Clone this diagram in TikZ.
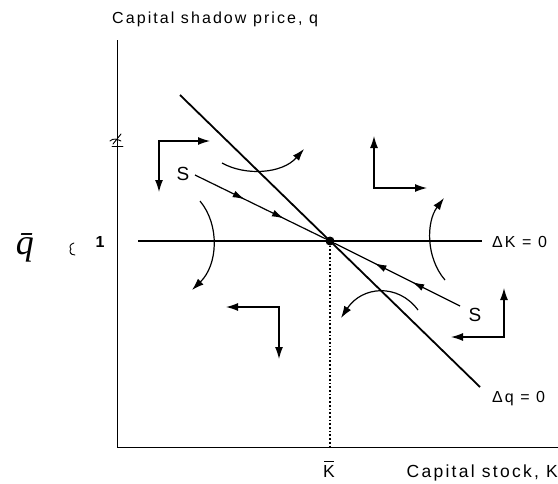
\documentclass[tikz,border=0pt]{standalone}
\usepackage{fontspec}
\setmainfont{Liberation Sans}
\newfontfamily\lab[LetterSpace=13]{Liberation Sans}
\newfontfamily\handf{Liberation Serif}
\usetikzlibrary{arrows.meta,decorations.markings}
\tikzset{
  tip/.style={-{Latex[length=12pt,width=8pt]}},
  dtip/.style={{Latex[length=12pt,width=8pt]}-{Latex[length=12pt,width=8pt]}},
  axis/.style={line width=0.9pt},
  locus/.style={line width=1.8pt},
  flow/.style={line width=1.2pt},
  saddle/.style={line width=1.2pt, postaction={decorate}, decoration={markings,
     mark=at position 0.38 with {\arrow{Latex[length=12pt,width=7pt]}},
     mark=at position 0.68 with {\arrow{Latex[length=12pt,width=7pt]}}}},
  txt/.style={font=\lab\fontsize{16}{18}\selectfont, inner sep=0pt},
  btxt/.style={font=\lab\fontsize{17.5}{19}\selectfont, inner sep=0pt},
  slab/.style={font=\lab\fontsize{19}{20}\selectfont, inner sep=0pt},
  hand/.style={line width=0.9pt, line cap=round, line join=round}
}
\begin{document}
\begin{tikzpicture}[x=1pt,y=-1pt]
\useasboundingbox (0,0) rectangle (558,483);
% axes
\coordinate (ytop) at (117,40);
\coordinate (orig) at (117,447);
\coordinate (xend) at (558,447);
\draw[axis] (ytop) -- (orig) -- (xend);
\node[txt, anchor=base west] (ylab) at (112,23) {Capital shadow price, q};
\node[btxt, anchor=base east] (xlab) at (558,477) {Capital stock, K};
% loci
\coordinate (dkL) at (138,241);
\coordinate (dkR) at (482,241);
\coordinate (dqT) at (180,95);
\coordinate (dqB) at (480,387);
\draw[locus] (dkL) -- (dkR);
\draw[locus] (dqT) -- (dqB);
\node[txt, anchor=west] (dklab) at (492,242) {ΔK = 0};
\node[txt, anchor=west] (dqlab) at (492,399) {Δq = 0};
% equilibrium
\node[circle, fill=black, inner sep=0pt, minimum size=9pt] (eq) at (330,241) {};
\coordinate (kb) at (330,447);
\draw[line width=1.7pt, dotted] (eq) -- (kb);
\node[btxt, anchor=base] (kbar) at (329,477) {K};
\draw[line width=1pt] ([xshift=-5pt,yshift=3.5pt]kbar.north) -- ([xshift=5pt,yshift=3.5pt]kbar.north);
\node[font=\bfseries\fontsize{16}{16}\selectfont, inner sep=0pt, anchor=base] (one) at (100,247) {1};
% saddle path
\coordinate (s1) at (195,175);
\coordinate (s2) at (460,306);
\draw[saddle] (s1) -- (eq);
\draw[saddle] (s2) -- (eq);
\node[slab] (S1) at (183,174) {S};
\node[slab] (S2) at (475,315) {S};
% L-shaped arrows
\coordinate (c1) at (159,141);
\draw[flow, dtip] (210,141) -- (c1) -- (159,192);
\coordinate (c3) at (374,188);
\draw[flow, dtip] (374,136) -- (c3) -- (427,188);
\coordinate (c6) at (279,307);
\draw[flow, dtip] (226,307) -- (c6) -- (279,359);
\coordinate (c8) at (504,337);
\draw[flow, dtip] (504,288) -- (c8) -- (451,337);
% curved arrows
\coordinate (a2s) at (222,163);
\coordinate (a2e) at (304,149);
\draw[flow, tip] (a2s) .. controls (245,176) and (282,174) .. (a2e);
\coordinate (a4s) at (445,280);
\coordinate (a4e) at (444,198);
\draw[flow, tip] (a4s) .. controls (426,258) and (426,222) .. (a4e);
\coordinate (a5s) at (200,201);
\coordinate (a5e) at (192,290);
\draw[flow, tip] (a5s) .. controls (220,225) and (218,265) .. (a5e);
\coordinate (a7s) at (418,310);
\coordinate (a7e) at (341,318);
\draw[flow, tip] (a7s) .. controls (398,283) and (362,286) .. (a7e);
% handwritten marks
\node[inner sep=0pt, anchor=base, font=\handf\itshape\fontsize{36}{36}\selectfont] (qbar) at (25,254) {q̄};
\draw[hand] (74,243) .. controls (70,244) and (69,247) .. (71,249) .. controls (69,251) and (70,255) .. (75,255);
\draw[hand] (110,141) .. controls (113,138) and (117,139) .. (121,141);
\draw[hand] (113,144) -- (121,134);
\draw[hand] (112,146) -- (123,146);
\end{tikzpicture}
\end{document}
